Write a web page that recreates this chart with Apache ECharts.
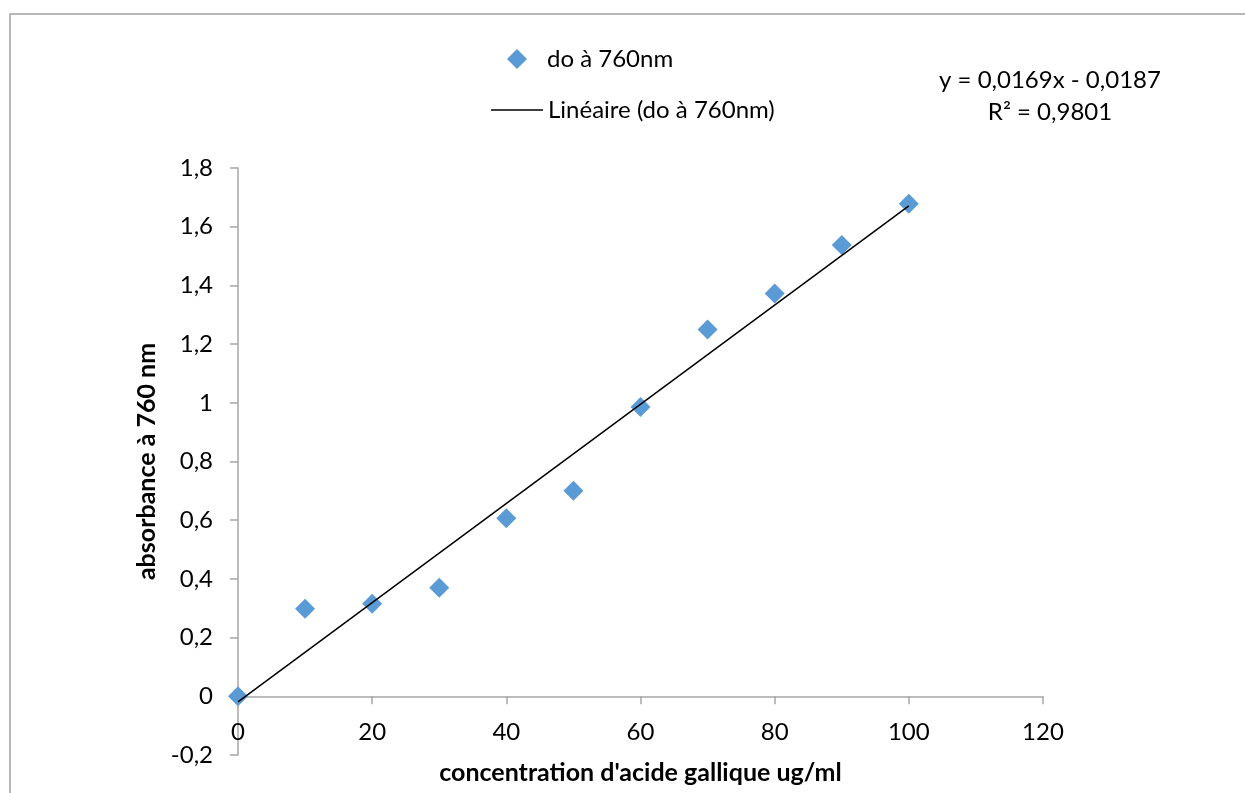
<!DOCTYPE html>
<html>
<head>
<meta charset="utf-8">
<script src="https://cdn.jsdelivr.net/npm/echarts@6/dist/echarts.min.js"></script>
<style>html,body{margin:0;padding:0;background:#fff}#c{width:1245px;height:793px}</style>
</head>
<body>
<div id="c"></div>
<script>
const concentrations = [0, 10, 20, 30, 40, 50, 60, 70, 80, 90, 100];
const absorbance = [0, 0.298, 0.315, 0.37, 0.607, 0.70, 0.986, 1.25, 1.372, 1.538, 1.678];
const trendX = [0, 100];
const trendY = [-0.0187, 1.6713];
const seriesName = 'do à 760nm';
const trendName = 'Linéaire (do à 760nm)';
const equationLines = ['y = 0,0169x - 0,0187', 'R² = 0,9801'];
const xTitle = "concentration d'acide gallique ug/ml";
const yTitle = 'absorbance à 760 nm';

const FONT = 'Lato';
const fmt = v => String(Math.round(v * 10) / 10).replace('.', ',');

const chart = echarts.init(document.getElementById('c'));
chart.setOption({
  backgroundColor: '#fff',
  animation: false,
  textStyle: { fontFamily: FONT },
  grid: { left: 238, right: 202, top: 168, bottom: 38, containLabel: false, outerBoundsMode: 'none' },
  legend: [
    {
      data: [{ name: seriesName, icon: 'path://M5,0 L10,5 L5,10 L0,5 Z' }],
      left: 502, top: 42, itemWidth: 50, itemHeight: 20,
      selectedMode: false,
      textStyle: { fontFamily: FONT, fontSize: 24, color: '#000' }
    },
    {
      data: [{ name: trendName, icon: 'rect' }],
      left: 486, top: 93, itemWidth: 52, itemHeight: 1.5,
      selectedMode: false,
      itemStyle: { color: '#000' },
      textStyle: { fontFamily: FONT, fontSize: 24, color: '#000' }
    }
  ],
  xAxis: {
    type: 'value', min: 0, max: 120, interval: 20,
    name: xTitle, nameLocation: 'middle', nameGap: 5,
    nameTextStyle: { fontFamily: FONT, fontSize: 25, fontWeight: 'bold', color: '#000' },
    axisLine: { onZero: true, lineStyle: { color: '#a6a6a6', width: 1.5 } },
    axisTick: { show: true, length: 8, lineStyle: { color: '#a6a6a6', width: 1.5 } },
    axisLabel: { fontFamily: FONT, fontSize: 24, color: '#000', margin: -35 },
    splitLine: { show: false }
  },
  yAxis: {
    type: 'value', min: -0.2, max: 1.8, interval: 0.2,
    name: yTitle, nameLocation: 'middle', nameGap: 76, nameRotate: 90,
    nameTextStyle: { fontFamily: FONT, fontSize: 25, fontWeight: 'bold', color: '#000' },
    axisLine: { show: true, onZero: false, lineStyle: { color: '#a6a6a6', width: 1.5 } },
    axisTick: { show: true, length: 8, lineStyle: { color: '#a6a6a6', width: 1.5 } },
    axisLabel: { fontFamily: FONT, fontSize: 24, color: '#000', margin: 25, formatter: fmt },
    splitLine: { show: false }
  },
  series: [
    {
      name: trendName, type: 'line',
      data: trendX.map((x, i) => [x, trendY[i]]),
      symbol: 'none', z: 3,
      lineStyle: { color: '#000', width: 1.5 },
      itemStyle: { color: '#000' }
    },
    {
      name: seriesName, type: 'scatter',
      data: concentrations.map((x, i) => [x, absorbance[i]]),
      symbol: 'diamond', symbolSize: 20, z: 2,
      itemStyle: { color: '#5b9bd5', opacity: 1 }
    }
  ],
  graphic: [
    {
      type: 'rect', shape: { x: 10, y: 14, width: 1260, height: 800 },
      style: { fill: 'none', stroke: '#a0a0a0', lineWidth: 1.5 }, z: -10, silent: true
    },
    {
      type: 'text', style: {
        x: 1050, y: 80, text: equationLines[0], textAlign: 'center', textVerticalAlign: 'middle',
        font: '24px Lato', fill: '#000'
      }
    },
    {
      type: 'text', style: {
        x: 1050, y: 112, text: equationLines[1], textAlign: 'center', textVerticalAlign: 'middle',
        font: '24px Lato', fill: '#000'
      }
    }
  ]
});
</script>
</body>
</html>
